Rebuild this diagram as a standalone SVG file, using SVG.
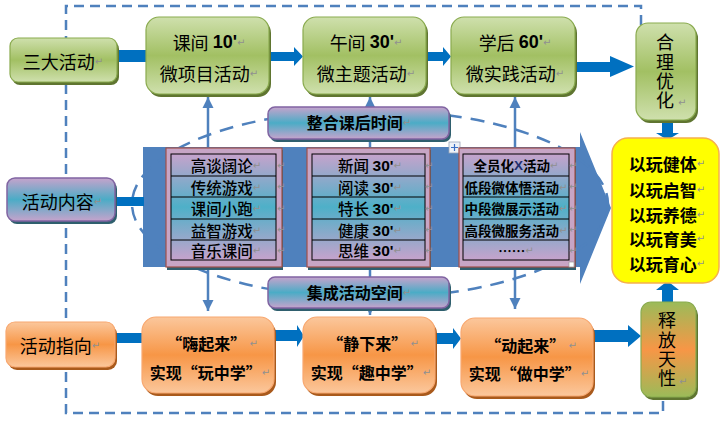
<svg xmlns="http://www.w3.org/2000/svg" width="727" height="429" viewBox="0 0 727 429">
<style>
.cjk{font-family:"Noto Sans CJK SC","Noto Sans",sans-serif;fill:#000;dominant-baseline:central;text-anchor:middle}
.vt{font-family:"Noto Sans CJK SC","Noto Sans",sans-serif;fill:#000;font-size:18px;writing-mode:vertical-rl;text-orientation:upright;text-anchor:middle;letter-spacing:1.3px}
.t18{font-size:18px}
.t17b{font-size:17px;font-weight:bold}
.t16b{font-size:16px;font-weight:bold}
.t15{font-size:15.5px;font-weight:500}
.t13{font-size:13.5px;font-weight:bold}
.lat{font-family:"Liberation Sans",Arial,sans-serif;font-weight:bold}
.rm{font-family:"DejaVu Sans",sans-serif;font-size:10px;fill:#909090;font-weight:normal}
.cm{font-family:"DejaVu Sans",sans-serif;font-size:10px;fill:#909090;dominant-baseline:central}
.dash{fill:none;stroke:#4f81bd;stroke-width:2.5}
.thin{stroke:#4f81bd;stroke-width:2.5;fill:none;marker-end:url(#ah)}
.thick{fill:#0070c0}
.green{fill:url(#gGreen);stroke:#8aab4f;stroke-width:1.2}
.gsh{fill:#5f7530}
.purple{fill:url(#gPurple);stroke:#8064a2;stroke-width:1.5}
.psh{fill:#2f5f6e}
.orange{fill:url(#gOrange);stroke:#f8a870;stroke-width:1.2}
.osh{fill:#a95a1c}
.tframe{fill:#c7a5c5;stroke:#a0504a;stroke-width:1.2}
.tsh{fill:#2f5f6e}
.tin{fill:url(#gTable);stroke:#000;stroke-width:1}
.rowl{stroke:#000;stroke-width:1}
</style>
<defs>
<linearGradient id="gGreen" x1="0" y1="0" x2="0" y2="1"><stop offset="0" stop-color="#cfe0ad"/><stop offset="0.5" stop-color="#a2c063"/><stop offset="1" stop-color="#cfe0ad"/></linearGradient>
<linearGradient id="gPurple" x1="0" y1="0" x2="0" y2="1"><stop offset="0" stop-color="#c6a3cc"/><stop offset="0.5" stop-color="#4bacc6"/><stop offset="1" stop-color="#c6a3cc"/></linearGradient>
<linearGradient id="gTable" x1="0" y1="0" x2="0" y2="1"><stop offset="0" stop-color="#c6a3cc"/><stop offset="0.5" stop-color="#4eb0c8"/><stop offset="1" stop-color="#c6a3cc"/></linearGradient>
<linearGradient id="gOrange" x1="0" y1="0" x2="0" y2="1"><stop offset="0" stop-color="#fbc79c"/><stop offset="0.5" stop-color="#f79646"/><stop offset="1" stop-color="#fbc79c"/></linearGradient>
<linearGradient id="gMix" x1="0" y1="0" x2="0" y2="1"><stop offset="0" stop-color="#9bbb59"/><stop offset="0.5" stop-color="#f79646"/><stop offset="1" stop-color="#9bbb59"/></linearGradient>
<marker id="ah" markerUnits="userSpaceOnUse" markerWidth="12" markerHeight="12" refX="11" refY="6" orient="auto"><path d="M0,0.5 L11,6 L0,11.5 z" fill="#4f81bd"/></marker>
</defs>

<g id="frame">
<path class="dash" stroke-dasharray="10 6" d="M641,25 V6 H66 V413 H663 V393"/>
</g>

<g id="content-arrow">
<polygon fill="#4f81bd" points="143,147 580,147 580,132 611,208 580,284 580,267 143,267"/>
<ellipse class="dash" stroke-dasharray="14 9" cx="370" cy="204" rx="238" ry="94"/>
</g>

<g id="connectors">
<line class="thin" x1="208" y1="149" x2="208" y2="97"/>
<line class="thin" x1="370" y1="108" x2="370" y2="97"/>
<line x1="370" y1="139" x2="370" y2="149" stroke="#4f81bd" stroke-width="2.5"/>
<line x1="370" y1="266" x2="370" y2="278" stroke="#4f81bd" stroke-width="2.5"/>
<line class="thin" x1="515" y1="149" x2="515" y2="97"/>
<line class="thin" x1="208" y1="266" x2="208" y2="311"/>
<line class="thin" x1="370" y1="307" x2="370" y2="315"/>
<line class="thin" x1="515" y1="266" x2="515" y2="309"/>
<rect class="thick" x="117" y="50" width="30" height="12"/>
<rect class="thick" x="115" y="197" width="29" height="9"/>
<rect class="thick" x="115" y="333" width="28" height="10"/>
<polygon class="thick" points="269,52 294,52 294,47 303,56.5 294,66 294,61 269,61"/>
<polygon class="thick" points="426,52 443,52 443,47 451,56.5 443,66 443,61 426,61"/>
<polygon class="thick" points="575,62 610,62 610,56 634,66.5 610,77 610,72 575,72"/>
<polygon class="thick" points="274,330 297,330 297,325 304,336 297,347 297,341 274,341"/>
<polygon class="thick" points="435,333 453,333 453,328 461,338.5 453,349 453,344 435,344"/>
<polygon class="thick" points="593,330 628,330 628,325 641,336 628,347 628,342 593,342"/>
<polygon class="thick" points="662,118 673,118 673,133 679,133 667.5,140 656,133 662,133"/>
<polygon class="thick" points="662,303 662,290 656,290 667.5,281 679,290 673,290 673,303"/>
</g>

<g id="table1">
<rect class="tsh" x="167" y="150" width="116" height="120"/>
<rect class="tframe" x="166" y="148" width="116" height="119"/>
<rect class="tin" x="171" y="154" width="105" height="106"/>
<line class="rowl" x1="171" y1="176" x2="276" y2="176"/>
<line class="rowl" x1="171" y1="197" x2="276" y2="197"/>
<line class="rowl" x1="171" y1="219" x2="276" y2="219"/>
<line class="rowl" x1="171" y1="240" x2="276" y2="240"/>
<text class="cjk t15" x="226" y="165">高谈阔论<tspan class="rm">↵</tspan></text>
<text class="cjk t15" x="226" y="186.5">传统游戏<tspan class="rm">↵</tspan></text>
<text class="cjk t15" x="226" y="208">课间小跑<tspan class="rm">↵</tspan></text>
<text class="cjk t15" x="226" y="229.5">益智游戏<tspan class="rm">↵</tspan></text>
<text class="cjk t15" x="226" y="250">音乐课间<tspan class="rm">↵</tspan></text>
<text class="cm" x="277" y="165">↵</text><text class="cm" x="277" y="186.5">↵</text><text class="cm" x="277" y="208">↵</text><text class="cm" x="277" y="229.5">↵</text><text class="cm" x="277" y="250">↵</text>
</g>

<g id="table2">
<rect class="tsh" x="308" y="150" width="123" height="120"/>
<rect class="tframe" x="307" y="148" width="123" height="119"/>
<rect class="tin" x="312" y="154" width="113" height="106"/>
<line class="rowl" x1="312" y1="176" x2="425" y2="176"/>
<line class="rowl" x1="312" y1="197" x2="425" y2="197"/>
<line class="rowl" x1="312" y1="219" x2="425" y2="219"/>
<line class="rowl" x1="312" y1="240" x2="425" y2="240"/>
<text class="cjk t15" x="370" y="165">新闻 <tspan class="lat">30'</tspan><tspan class="rm">↵</tspan></text>
<text class="cjk t15" x="370" y="186.5">阅读 <tspan class="lat">30'</tspan><tspan class="rm">↵</tspan></text>
<text class="cjk t15" x="370" y="208">特长 <tspan class="lat">30'</tspan><tspan class="rm">↵</tspan></text>
<text class="cjk t15" x="370" y="229.5">健康 <tspan class="lat">30'</tspan><tspan class="rm">↵</tspan></text>
<text class="cjk t15" x="370" y="250">思维 <tspan class="lat">30'</tspan><tspan class="rm">↵</tspan></text>
<text class="cm" x="425" y="165">↵</text><text class="cm" x="425" y="186.5">↵</text><text class="cm" x="425" y="208">↵</text><text class="cm" x="425" y="229.5">↵</text><text class="cm" x="425" y="250">↵</text>
</g>

<g id="move-handle">
<rect x="449" y="142" width="11" height="11" fill="#eef2f8" stroke="#9aa6b8" stroke-width="0.8"/>
<path d="M454.5,144 V151 M451,147.5 H458" stroke="#3a6fc4" stroke-width="1.2"/>
</g>

<g id="table3">
<rect class="tsh" x="460" y="150" width="116" height="120"/>
<rect class="tframe" x="459" y="148" width="116" height="119"/>
<rect class="tin" x="463" y="154" width="106" height="106"/>
<line class="rowl" x1="463" y1="176" x2="569" y2="176"/>
<line class="rowl" x1="463" y1="197" x2="569" y2="197"/>
<line class="rowl" x1="463" y1="219" x2="569" y2="219"/>
<line class="rowl" x1="463" y1="240" x2="569" y2="240"/>
<text class="cjk t13" x="516" y="165">全员化<tspan class="lat" fill="#1f2f6f">X</tspan>活动<tspan class="rm">↵</tspan></text>
<text class="cjk t13" x="516" y="186.5">低段微体悟活动<tspan class="rm">↵</tspan></text>
<text class="cjk t13" x="516" y="208">中段微展示活动<tspan class="rm">↵</tspan></text>
<text class="cjk t13" x="516" y="229.5">高段微服务活动<tspan class="rm">↵</tspan></text>
<text class="cjk t13" x="516" y="250">……<tspan class="rm">↵</tspan></text>
<text class="cm" x="569" y="165">↵</text><text class="cm" x="569" y="186.5">↵</text><text class="cm" x="569" y="208">↵</text><text class="cm" x="569" y="229.5">↵</text><text class="cm" x="569" y="250">↵</text>
<rect x="569" y="262" width="5" height="5" fill="#fff" stroke="#999" stroke-width="0.7"/>
</g>

<g id="label-integrate">
<rect class="psh" x="270" y="110" width="181" height="32" rx="7"/>
<rect class="purple" x="268" y="107" width="181" height="32" rx="7"/>
<text class="cjk t16b" x="359" y="122">整合课后时间<tspan class="rm">↵</tspan></text>
</g>
<g id="label-space">
<rect class="psh" x="270" y="280" width="181" height="31" rx="7"/>
<rect class="purple" x="268" y="277" width="181" height="31" rx="7"/>
<text class="cjk t16b" x="359" y="292">集成活动空间<tspan class="rm">↵</tspan></text>
</g>

<g id="node-three">
<rect class="gsh" x="12" y="41" width="107" height="44" rx="8"/>
<rect class="green" x="10" y="38" width="107" height="44" rx="8"/>
<text class="cjk t18" x="63" y="61">三大活动<tspan class="rm">↵</tspan></text>
</g>
<g id="node-kejian">
<rect class="gsh" x="148" y="20" width="123" height="77" rx="13"/>
<rect class="green" x="146" y="17" width="123" height="77" rx="13"/>
<text class="cjk t18" x="209" y="42">课间 <tspan class="lat">10'</tspan><tspan class="rm">↵</tspan></text>
<text class="cjk t18" x="209" y="73">微项目活动<tspan class="rm">↵</tspan></text>
</g>
<g id="node-wujian">
<rect class="gsh" x="305" y="20" width="123" height="77" rx="13"/>
<rect class="green" x="303" y="17" width="123" height="77" rx="13"/>
<text class="cjk t18" x="366" y="42">午间 <tspan class="lat">30'</tspan><tspan class="rm">↵</tspan></text>
<text class="cjk t18" x="366" y="73">微主题活动<tspan class="rm">↵</tspan></text>
</g>
<g id="node-xuehou">
<rect class="gsh" x="453" y="20" width="124" height="77" rx="13"/>
<rect class="green" x="451" y="17" width="124" height="77" rx="13"/>
<text class="cjk t18" x="515" y="42">学后 <tspan class="lat">60'</tspan><tspan class="rm">↵</tspan></text>
<text class="cjk t18" x="515" y="73">微实践活动<tspan class="rm">↵</tspan></text>
</g>
<g id="node-heli">
<rect class="gsh" x="638" y="26" width="60" height="97" rx="12"/>
<rect class="green" x="636" y="23" width="60" height="97" rx="12"/>
<text class="vt" x="665" y="72">合理优化</text>
<text class="cm" x="678" y="102">↵</text>
</g>

<g id="node-content">
<rect class="psh" x="9" y="181" width="108" height="43" rx="8"/>
<rect class="purple" x="7" y="178" width="108" height="43" rx="8"/>
<text class="cjk t18" x="62" y="201">活动内容<tspan class="rm">↵</tspan></text>
</g>

<g id="node-goal">
<rect x="612" y="138" width="107" height="145" rx="16" fill="#ffff00" stroke="#f5b04e" stroke-width="1.5"/>
<text class="cjk t17b" x="667" y="163">以玩健体<tspan class="rm">↵</tspan></text>
<text class="cjk t17b" x="667" y="189">以玩启智<tspan class="rm">↵</tspan></text>
<text class="cjk t17b" x="667" y="214">以玩养德<tspan class="rm">↵</tspan></text>
<text class="cjk t17b" x="667" y="238">以玩育美<tspan class="rm">↵</tspan></text>
<text class="cjk t17b" x="667" y="263">以玩育心<tspan class="rm">↵</tspan></text>
</g>

<g id="node-direction">
<rect class="osh" x="8" y="325" width="109" height="45" rx="9"/>
<rect class="orange" x="6" y="322" width="109" height="45" rx="9"/>
<text class="cjk t18" x="60" y="345">活动指向<tspan class="rm">↵</tspan></text>
</g>
<g id="node-hai">
<rect class="osh" x="144" y="320" width="132" height="76" rx="14"/>
<rect class="orange" x="142" y="317" width="132" height="76" rx="14"/>
<text class="cjk t16b" x="212" y="343">“嗨起来”<tspan class="rm"> ↵</tspan></text>
<text class="cjk t16b" x="210" y="372">实现“玩中学”<tspan class="rm">↵</tspan></text>
</g>
<g id="node-jing">
<rect class="osh" x="305" y="320" width="132" height="76" rx="14"/>
<rect class="orange" x="303" y="317" width="132" height="76" rx="14"/>
<text class="cjk t16b" x="373" y="343">“静下来”<tspan class="rm"> ↵</tspan></text>
<text class="cjk t16b" x="371" y="372">实现“趣中学”<tspan class="rm">↵</tspan></text>
</g>
<g id="node-dong">
<rect class="osh" x="463" y="321" width="132" height="78" rx="14"/>
<rect class="orange" x="461" y="318" width="132" height="78" rx="14"/>
<text class="cjk t16b" x="531" y="345">“动起来”<tspan class="rm"> ↵</tspan></text>
<text class="cjk t16b" x="529" y="373">实现“做中学”<tspan class="rm">↵</tspan></text>
</g>
<g id="node-release">
<rect class="gsh" x="643" y="305" width="55" height="95" rx="10"/>
<rect x="641" y="302" width="55" height="95" rx="10" fill="url(#gMix)" stroke="#8aab4f" stroke-width="1.2"/>
<text class="vt" x="667" y="350">释放天性</text>
<text class="cm" x="679" y="381">↵</text>
</g>
</svg>
